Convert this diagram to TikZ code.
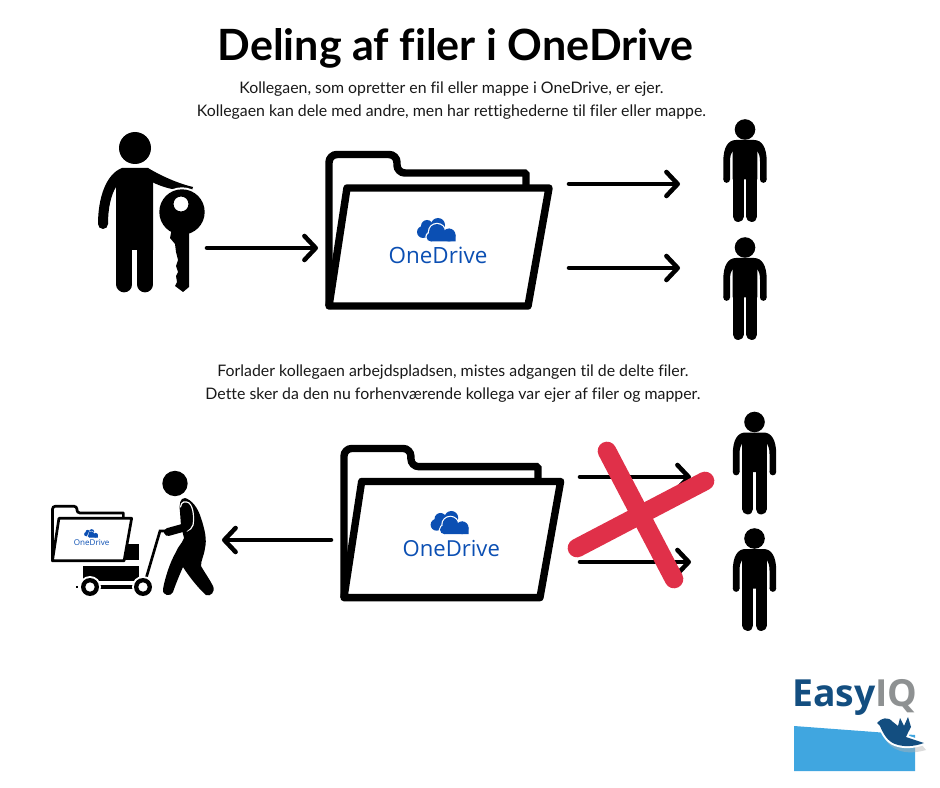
\documentclass[tikz,border=0pt]{standalone}
\usepackage{fontspec}
\setmainfont{Lato}[Ligatures=NoCommon]
\newfontfamily\odfont{Open Sans}
\usetikzlibrary{arrows.meta}
\definecolor{odblue}{HTML}{0B4FB3}
\definecolor{xred}{HTML}{E03049}
\definecolor{eqblue}{HTML}{134E80}
\definecolor{eqgray}{HTML}{8E9192}
\definecolor{eqsky}{HTML}{40A6E0}
\tikzset{
  flow/.style={line width=3.4pt,line cap=round,-{Straight Barb[length=8.5pt,width=18pt,line width=3.4pt,round]}},
  cross/.style={line width=14pt,line cap=round,color=xred},
  body/.style={font=\fontsize{11.9}{14}\selectfont,text=black!90,anchor=base,inner sep=0pt},
  heading/.style={font=\bfseries\fontsize{32.3}{36}\selectfont,anchor=base,inner sep=0pt},
  limb/.style={line cap=round,line join=round,draw=black}
}
% person: centre x, head y
\newcommand\smallperson[2]{%
\begin{scope}[shift={(#1,#2)}]
\fill[black] (0,0) circle (10.3);
\fill[black] (-9,10.5) -- (9,10.5) .. controls (17,10.5) and (21.7,18) .. (21.7,32) -- (21.7,50) -- (15,50) -- (15,32)
  .. controls (15,27) and (14,24) .. (12.3,21) -- (12.3,50) -- (-12.3,50) -- (-12.3,21)
  .. controls (-14,24) and (-15,27) .. (-15,32) -- (-15,50) -- (-21.7,50) -- (-21.7,32)
  .. controls (-21.7,18) and (-17,10.5) .. (-9,10.5) -- cycle;
\fill[black] (-18.35,50) circle (3.35);
\fill[black] (18.35,50) circle (3.35);
\draw[limb,line width=8.2pt] (-6.8,45) -- (-6.8,87);
\draw[limb,line width=8.2pt] (6.8,45) -- (6.8,87);
\end{scope}}
% folder: x, y, scale, name
\newcommand\myfolder[4]{%
\begin{scope}[shift={(#1,#2)},scale=#3]
\draw[line width=#3*5.6pt,fill=white,rounded corners=#3*6pt]
  (4,155) -- (4,3.5) -- (72,3.5) -- (72,22) [rounded corners=#3*1pt] -- (201,22) -- (201,45) -- (4,155);
\draw[line width=#3*5.6pt,line join=round,fill=white]
  (22,37) -- (224,37) -- (203,155) -- (4,155) -- cycle;
\begin{scope}[shift={(-325,-151)}]
\fill[odblue] (438,225) circle (7);
\fill[odblue] (427,226) circle (6);
\fill[odblue] (423,232) circle (6);
\fill[odblue] (425,226) -- (444,226) -- (444,238) -- (425,238) -- cycle;
\fill[white] (437,232) circle (9.2);
\fill[white] (449,235) circle (7.7);
\fill[white] (431,237) circle (5.7);
\fill[white] (431,235) -- (457,235) -- (457,243) -- (431,243) -- cycle;
\fill[odblue] (437,232) circle (8);
\fill[odblue] (449,235) circle (6.5);
\fill[odblue] (431,237) circle (4.5);
\fill[odblue] (431,233) -- (449,233) -- (449,228.5) -- (455.5,235) -- (455.5,241.5) -- (431,241.5) -- cycle;
\end{scope}
\node[transform shape,anchor=base,inner sep=0pt,text=odblue,font=\odfont\fontsize{16.8}{20}\selectfont] (#4) at (113,113) {OneDrive};
\end{scope}}
\begin{document}
\begin{tikzpicture}[x=0.75pt,y=-0.75pt]
\useasboundingbox (0,0) rectangle (940,788);
\fill[white] (0,0) rectangle (940,788);

% texts
\node[heading] (title) at (455.5,61) {Deling af filer i OneDrive};
\node[body] (t1) at (451.5,94) {Kollegaen, som opretter en fil eller mappe i OneDrive, er ejer.};
\node[body] (t2) at (451.5,116.5) {Kollegaen kan dele med andre, men har rettighederne til filer eller mappe.};
\node[body] (t3) at (453,377) {Forlader kollegaen arbejdspladsen, mistes adgangen til de delte filer.};
\node[body] (t4) at (453,399) {Dette sker da den nu forhenværende kollega var ejer af filer og mapper.};

% owner with key
\fill[black] (135,148) circle (16);
\fill[black] (122,168) -- (148,168) -- (153,178) -- (153,250) -- (116,250) -- (116,187)
  .. controls (111,195) and (108,208) .. (108,224) -- (98,224) .. controls (98,198) and (106,174) .. (122,168) -- cycle;
\fill[black] (103,224) circle (5);
\draw[limb,line width=11.8pt] (124.3,240) -- (124.3,284.5);
\draw[limb,line width=11.8pt] (145,240) -- (145,284.5);
\fill[black] (148,168) .. controls (163,177) and (180,184) .. (193,187) -- (192,190) .. controls (175,192) and (160,186) .. (152,182) -- cycle;
\fill[white] (182,212) circle (24.7);
\fill[white] (167,235) rectangle (191,294);
\fill[black,even odd rule] (182,212) circle (22.7) (181,204) circle (7.5);
\fill[black] (189,228) -- (189,287) -- (183,292) -- (175,286) -- (177,282) -- (176,276) -- (178,272) -- (176,266) -- (178,260) -- (176,252) -- (175,244) -- (170,238) -- (172,228) -- cycle;

% recipients
\smallperson{745}{129.5}
\smallperson{745}{247.5}
\smallperson{754.5}{422}
\smallperson{754.5}{538.5}

% cart
\fill[black] (121.5,544) rectangle (139,560);
\fill[black] (83,566) rectangle (139,581);

% folders
\myfolder{325}{151}{1}{od1}
\myfolder{340}{445}{0.985}{od2}
\myfolder{51}{505}{0.36}{od3}

\draw[line width=1.9pt] (76,587) -- (78,587);
\draw[line width=2.8pt] (90,587) -- (143,587);
\draw[line width=2pt] (145,582) -- (160,531) -- (166,531);
\fill[white] (90,587) circle (11);
\fill[white] (143,587) circle (11);
\fill[black,even odd rule] (90,587) circle (9) (90,587) circle (4.8);
\fill[black,even odd rule] (143,587) circle (9) (143,587) circle (4.8);

% walking person
\fill[black] (175,483.5) circle (12.7);
\fill[black,line join=round] (185,498) .. controls (192,500) and (198,508) .. (201,518)
  .. controls (205,530) and (207,540) .. (205,548) .. controls (204,556) and (201,560) .. (201,566)
  .. controls (205,573) and (210,580) .. (213,586) .. controls (216,592) and (210,597) .. (206,595)
  .. controls (200,590) and (190,578) .. (183,567) .. controls (179,576) and (175,586) .. (173,592)
  .. controls (171,597) and (162,596) .. (163,589) .. controls (165,578) and (170,562) .. (176,552)
  .. controls (178,546) and (182,544) .. (184,538) -- (181,526) -- (180,512) .. controls (179,504) and (180,498) .. (185,498) -- cycle;
\draw[line width=0.9pt,white,line cap=round] (180.5,507) .. controls (181,501) and (186,501) .. (189,503)
  .. controls (194,507) and (194,520) .. (193,525) .. controls (192,528) and (190,530) .. (187,531);
\draw[limb,line width=6pt] (186,507) .. controls (189,514) and (190,522) .. (186,527) -- (168,532);

% connectors
\coordinate (a1s) at (207,248); \coordinate (a1e) at (318,248);
\coordinate (a2s) at (569,184); \coordinate (a2e) at (680,184);
\coordinate (a3s) at (569,268); \coordinate (a3e) at (680,268);
\coordinate (a4s) at (331,540); \coordinate (a4e) at (222,540);
\coordinate (a5s) at (580,477); \coordinate (a5e) at (691,477);
\coordinate (a6s) at (580,562); \coordinate (a6e) at (691,562);
\foreach \n in {1,...,6} \draw[flow] (a\n s) -- (a\n e);

% red cross
\coordinate (x1) at (607,451); \coordinate (x2) at (674,579);
\coordinate (x3) at (577,548); \coordinate (x4) at (705,481);
\draw[cross] (x1) -- (x2);
\draw[cross] (x3) -- (x4);

% logo
\fill[eqsky] (794,726) -- (915,735) -- (915,771) -- (794,771) -- cycle;
\node[anchor=base west,inner sep=0pt,font=\odfont\bfseries\fontsize{28}{30}\selectfont,text=eqblue] (easy) at (792,706) {Easy\textcolor{eqgray}{IQ}};
\fill[black!30,opacity=.45] (884,737) .. controls (890,750) and (905,756) .. (926,750) -- (921,744) -- (900,742) -- cycle;
\def\birdpath{(877,723) .. controls (881,718) and (888,716) .. (893,722) -- (898,726) -- (900,718) -- (904,726) -- (908,717) -- (911,727)
  .. controls (909,731) and (907,734) .. (906,737) -- (924,743)
  .. controls (913,747) and (903,747) .. (895,744) .. controls (887,741) and (883,733) .. (880,726) -- cycle}
\draw[white,line width=3pt,line join=round] \birdpath;
\fill[eqblue] \birdpath;
\end{tikzpicture}
\end{document}
